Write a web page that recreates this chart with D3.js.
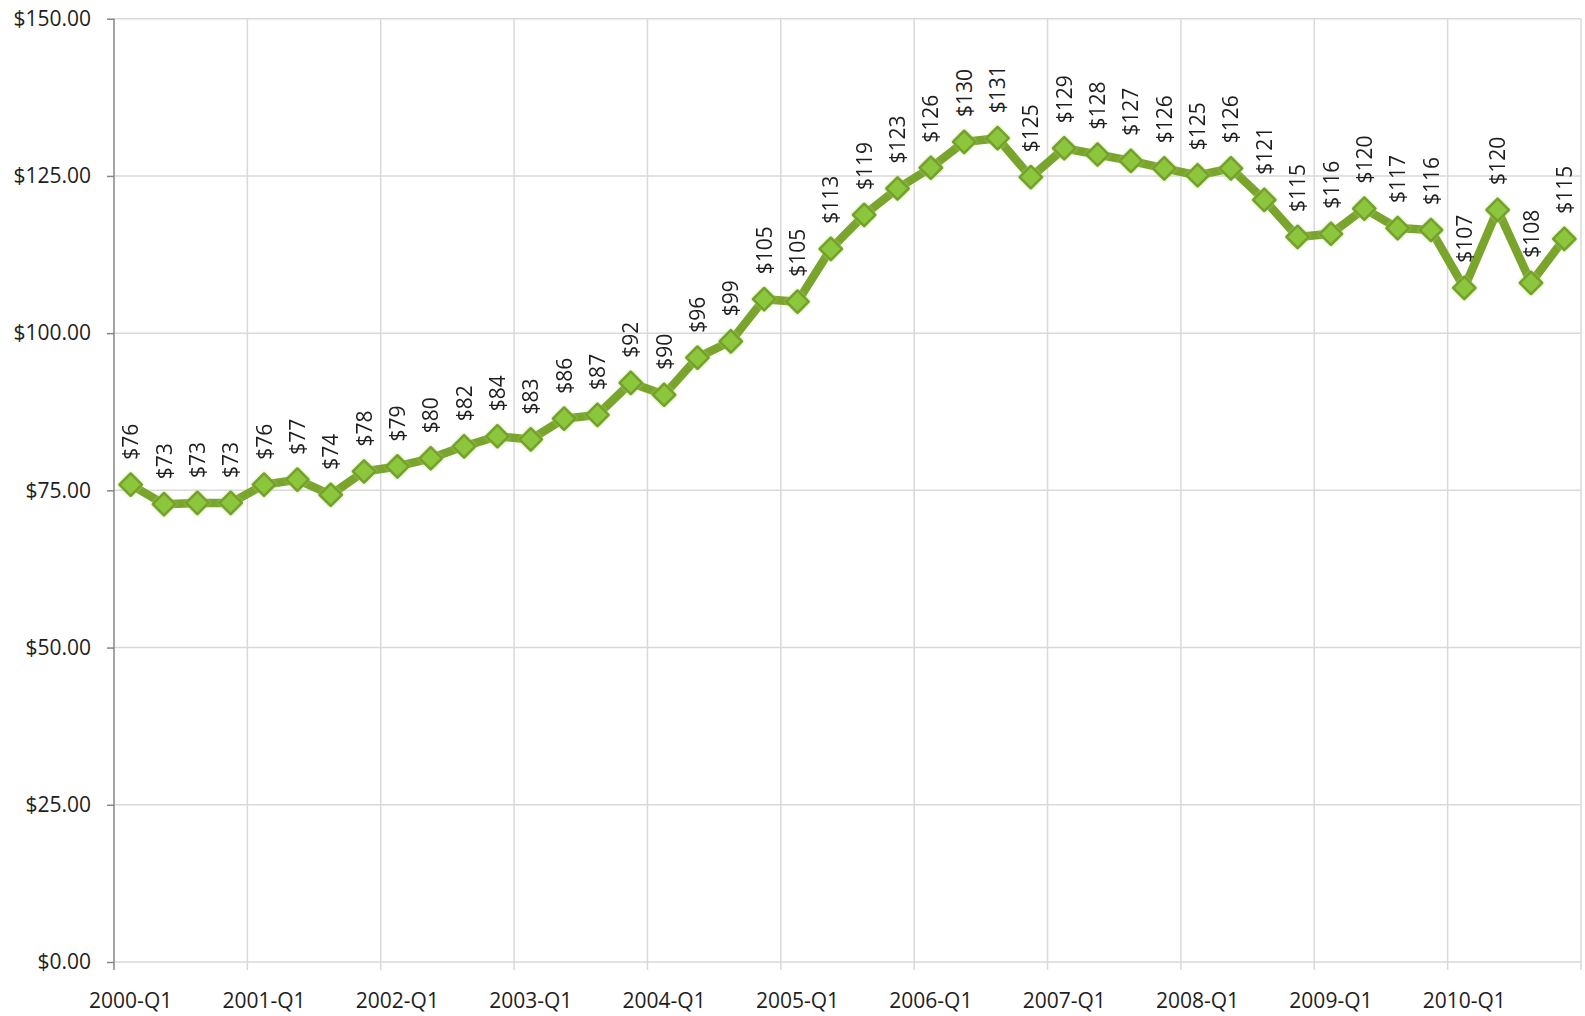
<!DOCTYPE html>
<html>
<head>
<meta charset="utf-8">
<script src="https://d3js.org/d3.v7.min.js"></script>
<style>
  body { margin: 0; background: #fff; }
  text { font-family: "Open Sans", sans-serif; fill: #1e1e1e; }
  .grid line { stroke: #d9d9d9; stroke-width: 1.5; }
</style>
</head>
<body>
<svg width="1585" height="1016"></svg>
<script>
var years = [2000, 2001, 2002, 2003, 2004, 2005, 2006, 2007, 2008, 2009, 2010];
var quarters = ["Q1", "Q2", "Q3", "Q4"];

// average price per quarter
var prices = [
  75.9, 72.8, 73.0, 73.0,
  75.9, 76.7, 74.3, 78.0,
  78.8, 80.1, 82.0, 83.6,
  83.1, 86.4, 87.0, 92.1,
  90.2, 96.1, 98.7, 105.4,
  105.0, 113.4, 118.8, 123.0,
  126.3, 130.4, 131.0, 124.8,
  129.4, 128.4, 127.4, 126.2,
  125.1, 126.2, 121.2, 115.3,
  115.8, 119.8, 116.7, 116.4,
  107.2, 119.6, 108.0, 115.0
];

var yTicks = [0, 25, 50, 75, 100, 125, 150];

var categories = [];
years.forEach(function(yr) {
  quarters.forEach(function(q) { categories.push(yr + "-" + q); });
});

var data = categories.map(function(c, i) { return { label: c, value: prices[i] }; });

var svg = d3.select("svg"),
    plotLeft = 114, plotRight = 1581, plotTop = 18.7, plotBottom = 962,
    fontSize = "21px";

var x = d3.scaleBand()
    .domain(categories)
    .range([plotLeft, plotRight]);

var y = d3.scaleLinear()
    .domain([0, 150])
    .range([plotBottom, plotTop]);

function cx(d) { return x(d.label) + x.bandwidth() / 2; }

// soft glow around the markers
var glow = svg.append("defs").append("filter")
    .attr("id", "glow")
    .attr("x", "-50%").attr("y", "-50%")
    .attr("width", "200%").attr("height", "200%");
glow.append("feGaussianBlur").attr("in", "SourceAlpha").attr("stdDeviation", 1.6).attr("result", "blur");
glow.append("feFlood").attr("flood-color", "#a9d46a").attr("flood-opacity", 0.8);
glow.append("feComposite").attr("in2", "blur").attr("operator", "in").attr("result", "halo");
var merge = glow.append("feMerge");
merge.append("feMergeNode").attr("in", "halo");
merge.append("feMergeNode").attr("in", "SourceGraphic");

// horizontal gridlines
svg.append("g")
    .attr("class", "grid")
  .selectAll("line")
  .data(yTicks)
  .enter().append("line")
    .attr("x1", plotLeft)
    .attr("x2", plotRight)
    .attr("y1", function(d) { return y(d); })
    .attr("y2", function(d) { return y(d); });

// vertical gridlines every year (tick marks drop below the axis)
var yearEdges = categories.filter(function(c) { return c.indexOf("Q1") >= 0; })
    .map(function(c) { return x(c); });
yearEdges.push(plotRight);

svg.append("g")
    .attr("class", "grid")
  .selectAll("line")
  .data(yearEdges.slice(1))
  .enter().append("line")
    .attr("x1", function(d) { return d; })
    .attr("x2", function(d) { return d; })
    .attr("y1", plotTop)
    .attr("y2", plotBottom + 8);

// y axis
var yAxis = d3.axisLeft(y)
    .tickValues(yTicks)
    .tickSize(7)
    .tickPadding(16)
    .tickFormat(function(d) { return "$" + d3.format(".2f")(d); });

var gy = svg.append("g")
    .attr("transform", "translate(" + plotLeft + ",0)")
    .call(yAxis);
gy.select(".domain").attr("stroke", "#868686").attr("stroke-width", 1.5)
    .attr("d", "M0," + (plotBottom + 8) + "V" + plotTop);
gy.selectAll(".tick line").attr("stroke", "#868686").attr("stroke-width", 1.5);
gy.selectAll(".tick text")
    .style("font-size", fontSize)
    .style("font-family", "'Open Sans', sans-serif")
    .attr("fill", "#1e1e1e");

// x labels at each year start
svg.append("g")
  .selectAll("text")
  .data(data.filter(function(d) { return d.label.indexOf("Q1") >= 0; }))
  .enter().append("text")
    .attr("x", cx)
    .attr("y", plotBottom + 46)
    .style("font-size", fontSize)
    .style("text-anchor", "middle")
    .text(function(d) { return d.label; });

// the line
var line = d3.line()
    .x(cx)
    .y(function(d) { return y(d.value); });

svg.append("path")
    .datum(data)
    .attr("fill", "none")
    .attr("stroke", "#7aa52d")
    .attr("stroke-width", 8.5)
    .attr("stroke-linejoin", "round")
    .attr("d", line);

// diamond markers
var diamond = d3.symbol().type(d3.symbolDiamond2).size(320);

svg.append("g")
    .attr("filter", "url(#glow)")
  .selectAll("path")
  .data(data)
  .enter().append("path")
    .attr("d", diamond)
    .attr("transform", function(d) { return "translate(" + cx(d) + "," + y(d.value) + ")"; })
    .attr("fill", "#8cc63e")
    .attr("stroke", "#74a02a")
    .attr("stroke-width", 2.5)
    .attr("stroke-linejoin", "round");

// rotated value labels
svg.append("g")
  .selectAll("text")
  .data(data)
  .enter().append("text")
    .attr("transform", function(d) { return "translate(" + cx(d) + "," + (y(d.value) - 25) + ") rotate(-90)"; })
    .attr("dy", "0.36em")
    .style("font-size", fontSize)
    .style("text-anchor", "start")
    .text(function(d) { return "$" + Math.round(d.value); });
</script>
</body>
</html>
